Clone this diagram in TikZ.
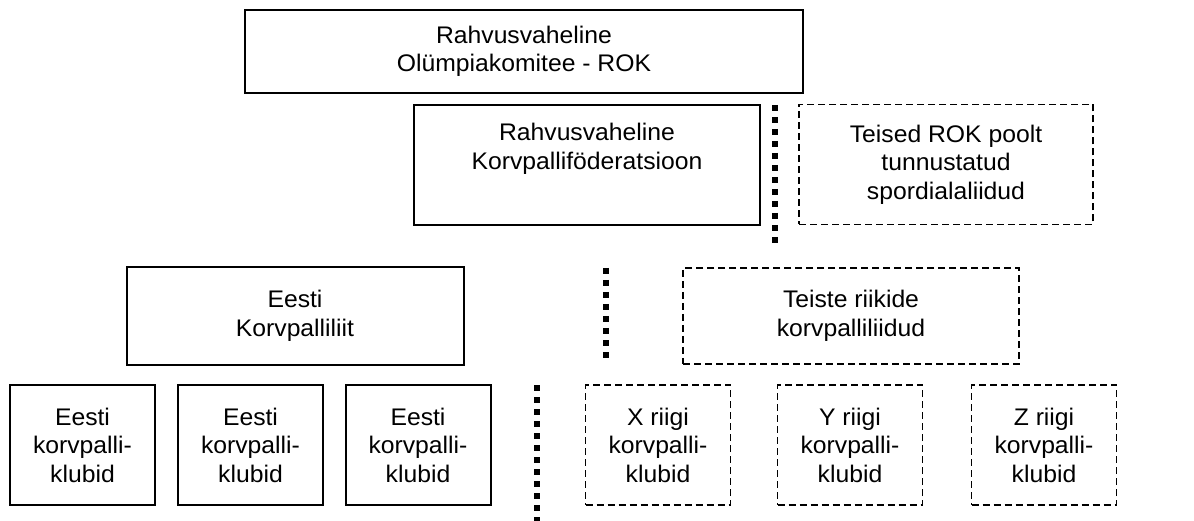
\documentclass[tikz,border=0pt]{standalone}
\usepackage{fontspec}
\setmainfont{Liberation Sans}[FakeStretch=1.03]
\begin{document}
\begin{tikzpicture}[x=1pt,y=-1pt,
  boxbase/.style={rectangle, inner sep=0pt, align=center, font=\fontsize{24}{28.5}\selectfont},
  solidbox/.style={boxbase, draw, line width=2pt},
  dashbox/.style={boxbase, draw, line width=1.4pt, dash pattern=on 7pt off 4pt},
  sep/.style={line width=6pt, line cap=butt, dash pattern=on 6pt off 6pt}]
\useasboundingbox (0,0) rectangle (1194,521);
% top level
\node[solidbox, minimum width=558pt, minimum height=83pt] (rok) at (524,51.5) {Rahvusvaheline\\Olümpiakomitee - ROK};
% second level
\node[solidbox, minimum width=346pt, minimum height=120pt] (fiba) at (587,165) {Rahvusvaheline\\Korvpalliföderatsioon\\\strut};
\node[dashbox, minimum width=294pt, minimum height=120pt] (teised) at (946,164.5) {Teised ROK poolt\\tunnustatud\\spordialaliidud};
% third level
\node[solidbox, minimum width=337pt, minimum height=97pt] (eesti) at (295,316) {Eesti\\Korvpalliliit};
\node[dashbox, minimum width=336pt, minimum height=96pt] (teiste) at (851,316) {Teiste riikide\\korvpalliliidud};
% clubs
\node[solidbox, minimum width=145pt, minimum height=120pt] (e1) at (82.5,445) {Eesti\\korvpalli-\\klubid};
\node[solidbox, minimum width=145pt, minimum height=120pt] (e2) at (250.5,445) {Eesti\\korvpalli-\\klubid};
\node[solidbox, minimum width=145pt, minimum height=120pt] (e3) at (418,445) {Eesti\\korvpalli-\\klubid};
\node[dashbox, minimum width=145pt, minimum height=120pt] (xk) at (658,445) {X riigi\\korvpalli-\\klubid};
\node[dashbox, minimum width=145pt, minimum height=120pt] (yk) at (850,445) {Y riigi\\korvpalli-\\klubid};
\node[dashbox, minimum width=145pt, minimum height=120pt] (zk) at (1044,445) {Z riigi\\korvpalli-\\klubid};
% separators
\coordinate (s1a) at (775,105);
\coordinate (s1b) at (775,243);
\coordinate (s2a) at (606,268);
\coordinate (s2b) at (606,358);
\coordinate (s3a) at (537,385);
\coordinate (s3b) at (537,521);
\draw[sep] (s1a) -- (s1b);
\draw[sep] (s2a) -- (s2b);
\draw[sep] (s3a) -- (s3b);
\end{tikzpicture}
\end{document}
